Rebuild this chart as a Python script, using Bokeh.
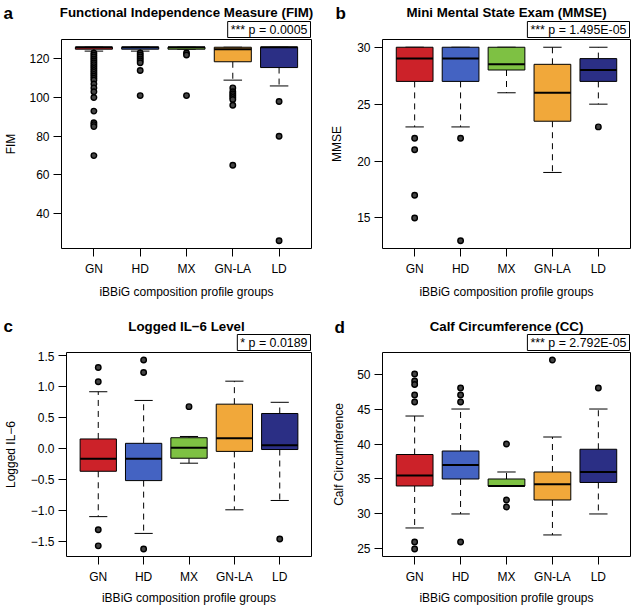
from bokeh.plotting import figure
from bokeh.models import Range1d, FixedTicker, Label
from bokeh.layouts import column, row
from bokeh.embed import file_html
from bokeh.resources import INLINE

FONT = "Liberation Sans"

groups = ["GN", "HD", "MX", "GN-LA", "LD"]
colors = ["#CC2229", "#4463C2", "#7EC143", "#F1A83A", "#2B2F85"]
x_title = "iBBiG composition profile groups"

# Panel a: FIM
fim_lower = [124, 124, 125, 109, 106]
fim_q1 = [125, 125, 125, 118.5, 115.5]
fim_median = [126, 126, 126, 125, 126]
fim_q3 = [126, 126, 126, 126, 126]
fim_upper = [126, 126, 126, 126, 126]
fim_outliers = [
    [123, 122, 121, 120, 119, 118, 117, 116, 115, 114, 113, 112, 111, 110, 109,
     107, 105, 103, 100, 93, 87, 86, 85, 70],
    [123, 122, 121, 120, 119, 118, 114, 101],
    [123, 122, 101],
    [105, 103, 102, 101, 100, 99, 96, 65],
    [98, 80, 26],
]
fim_ticks = [40, 60, 80, 100, 120]
fim_tick_labels = ["40", "60", "80", "100", "120"]

# Panel b: MMSE
mmse_lower = [23, 23, 26, 19, 25]
mmse_q1 = [27, 27, 28, 23.5, 27]
mmse_median = [29, 29, 28.5, 26, 28]
mmse_q3 = [30, 30, 30, 28.5, 29]
mmse_upper = [30, 30, 30, 30, 30]
mmse_outliers = [[22, 21, 17, 15], [22, 13], [], [], [23]]
mmse_ticks = [15, 20, 25, 30]
mmse_tick_labels = ["15", "20", "25", "30"]

# Panel c: logged IL-6
il6_lower = [-1.10, -1.37, -0.24, -0.99, -0.84]
il6_q1 = [-0.37, -0.52, -0.16, -0.05, -0.02]
il6_median = [-0.17, -0.17, 0.01, 0.16, 0.05]
il6_q3 = [0.15, 0.08, 0.17, 0.71, 0.56]
il6_upper = [0.91, 0.77, 0.19, 1.08, 0.74]
il6_outliers = [[1.30, 1.07, -1.31, -1.57], [1.42, 1.22, -1.62], [0.67], [], [-1.46]]
il6_ticks = [-1.5, -1.0, -0.5, 0.0, 0.5, 1.0, 1.5]
il6_tick_labels = ["\u22121.5", "\u22121.0", "\u22120.5", "0.0", "0.5", "1.0", "1.5"]

# Panel d: calf circumference
cc_lower = [28, 30, 34, 27, 30]
cc_q1 = [34, 35, 34, 32, 34.5]
cc_median = [35.5, 37, 34, 34.25, 36]
cc_q3 = [38.5, 39, 35, 36, 39.25]
cc_upper = [44, 45, 36, 41, 45]
cc_outliers = [[50, 49, 48.5, 47, 46, 26, 25], [48, 47, 46, 26], [40, 32, 31], [52], [48]]
cc_ticks = [25, 30, 35, 40, 45, 50]
cc_tick_labels = ["25", "30", "35", "40", "45", "50"]


def header(letter, title, ptext, width, height, frame_left, frame_right,
           letter_x, letter_y, title_y):
    h = figure(width=width, height=height, output_backend="svg", toolbar_location=None,
               x_range=Range1d(0, width), y_range=Range1d(0, height),
               x_axis_location=None, y_axis_location=None, min_border=0)
    h.grid.visible = False
    h.outline_line_color = None
    h.border_fill_color = "white"
    h.background_fill_color = "white"
    h.add_layout(Label(x=letter_x, y=letter_y, x_units="screen", y_units="screen", text=letter,
                       text_align="left", text_baseline="alphabetic", text_font=FONT,
                       text_font_size="17px", text_font_style="bold", text_color="black"))
    h.add_layout(Label(x=(frame_left + frame_right) / 2, y=title_y, x_units="screen",
                       y_units="screen", text=title, text_align="center",
                       text_baseline="middle", text_font=FONT, text_font_size="13.3px",
                       text_font_style="bold", text_color="black"))
    h.add_layout(Label(x=frame_right - 1, y=1, x_units="screen", y_units="screen", text=ptext,
                       text_align="right", text_baseline="bottom", text_font=FONT,
                       text_font_size="12.4px", text_color="black", border_line_color="black",
                       border_line_width=1, background_fill_color="white", padding=(3, 1)))
    return h


def panel(ylabel, lower, q1, med, q3, upper, outliers, ticks, tick_labels,
          width, height, bl, br, bt, bb, ylab_standoff, xl_standoff, xt_standoff):
    n = len(groups)
    xs = list(range(1, n + 1))
    allv = lower + upper + [v for o in outliers for v in o]
    lo, hi = min(allv), max(allv)
    pad = 0.04 * (hi - lo)
    xpad = 0.04 * n
    p = figure(width=width, height=height, output_backend="svg", toolbar_location=None,
               x_range=Range1d(0.5 - xpad, n + 0.5 + xpad),
               y_range=Range1d(lo - pad, hi + pad),
               min_border_left=bl, min_border_right=br, min_border_top=bt,
               min_border_bottom=bb)
    p.grid.visible = False
    p.outline_line_color = "black"
    p.outline_line_width = 1
    p.background_fill_color = "white"
    p.border_fill_color = "white"

    hw = 0.4
    p.segment(x0=xs, x1=xs, y0=q1, y1=lower, line_color="black", line_width=1, line_dash="6 5")
    p.segment(x0=xs, x1=xs, y0=q3, y1=upper, line_color="black", line_width=1, line_dash="6 5")
    p.segment(x0=[x - hw / 2 for x in xs], x1=[x + hw / 2 for x in xs], y0=lower, y1=lower,
              line_color="black", line_width=1)
    p.segment(x0=[x - hw / 2 for x in xs], x1=[x + hw / 2 for x in xs], y0=upper, y1=upper,
              line_color="black", line_width=1)
    p.quad(left=[x - hw for x in xs], right=[x + hw for x in xs], bottom=q1, top=q3,
           fill_color=colors, line_color="black", line_width=1)
    p.segment(x0=[x - hw for x in xs], x1=[x + hw for x in xs], y0=med, y1=med,
              line_color="black", line_width=2)
    ox = [xs[i] for i, o in enumerate(outliers) for _ in o]
    oy = [v for o in outliers for v in o]
    p.scatter(x=ox, y=oy, size=5.5, marker="circle", line_color="black", line_width=1.4,
              fill_color="#444444")

    for ax in (p.xaxis[0], p.yaxis[0]):
        ax.axis_line_color = None
        ax.minor_tick_line_color = None
        ax.major_tick_in = 0
        ax.major_tick_out = 8
        ax.major_tick_line_color = "black"
        ax.major_label_text_font = FONT
        ax.major_label_text_font_size = "12px"
        ax.major_label_text_color = "black"
        ax.axis_label_text_font = FONT
        ax.axis_label_text_font_size = "12px"
        ax.axis_label_text_font_style = "normal"
        ax.axis_label_text_color = "black"
    p.xaxis.ticker = FixedTicker(ticks=xs)
    p.xaxis.major_label_overrides = {x: g for x, g in zip(xs, groups)}
    p.xaxis.major_label_standoff = xl_standoff
    p.xaxis.axis_label = x_title
    p.xaxis.axis_label_standoff = xt_standoff
    p.yaxis.ticker = FixedTicker(ticks=ticks)
    p.yaxis.major_label_overrides = {t: l for t, l in zip(ticks, tick_labels)}
    p.yaxis.major_label_standoff = 4
    p.yaxis.axis_label = ylabel
    p.yaxis.axis_label_standoff = ylab_standoff
    return p


WL, WR = 315, 316
BL_L, BR_L = 61, 4
BL_R, BR_R = 67, 1
H1, P1 = 38, 265
H2, P2 = 48, 256

ha = header("a", "Functional Independence Measure (FIM)", "*** p = 0.0005",
            WL, H1, BL_L, WL - BR_L, 3, 25, 26.5)
hb = header("b", "Mini Mental State Exam (MMSE)", "*** p = 1.495E-05",
            WR, H1, BL_R, WR - BR_R, 20, 25, 26.5)
hc = header("c", "Logged IL\u22126 Level", "* p = 0.0189",
            WL, H2, BL_L, WL - BR_L, 3, 25, 25)
hd = header("d", "Calf Circumference (CC)", "*** p = 2.792E-05",
            WR, H2, BL_R, WR - BR_R, 19, 24, 25)

pa = panel("FIM", fim_lower, fim_q1, fim_median, fim_q3, fim_upper, fim_outliers,
           fim_ticks, fim_tick_labels, WL, P1, BL_L, BR_L, 1, 55, 8, 5, 6)
pb = panel("MMSE", mmse_lower, mmse_q1, mmse_median, mmse_q3, mmse_upper, mmse_outliers,
           mmse_ticks, mmse_tick_labels, WR, P1, BL_R, BR_R, 1, 55, 10, 5, 6)
pc = panel("Logged IL\u22126", il6_lower, il6_q1, il6_median, il6_q3, il6_upper, il6_outliers,
           il6_ticks, il6_tick_labels, WL, P2, BL_L, BR_L, 1, 47, 10, 5, 4)
pd_ = panel("Calf Circumference", cc_lower, cc_q1, cc_median, cc_q3, cc_upper, cc_outliers,
            cc_ticks, cc_tick_labels, WR, P2, BL_R, BR_R, 1, 47, 8, 5, 4)

layout = column(row(ha, hb), row(pa, pb), row(hc, hd), row(pc, pd_))
open("out.html", "w").write(file_html(layout, INLINE))
